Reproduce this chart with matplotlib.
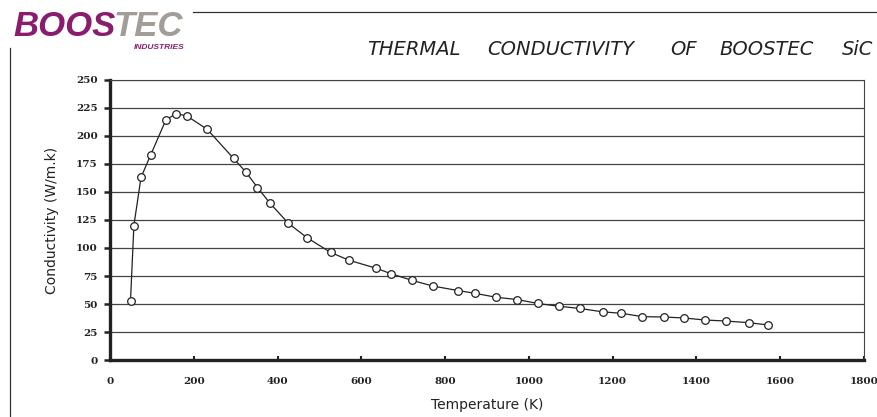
import matplotlib
matplotlib.use("Agg")
import matplotlib.pyplot as plt
from matplotlib.lines import Line2D

# Data
temperature_k = [49, 57, 74, 97, 133, 157, 183, 232, 295, 324, 352, 382, 426, 471,
                 527, 571, 635, 671, 722, 771, 831, 872, 922, 972, 1021, 1071, 1122,
                 1176, 1221, 1271, 1322, 1371, 1420, 1470, 1525, 1571]
conductivity = [53, 120, 163, 183, 214, 220, 218, 206, 180, 168, 154, 140, 122, 109,
                96, 89, 82, 77, 71, 66, 62, 59.5, 56, 54, 50.5, 48, 46,
                43, 41.7, 38.7, 38.4, 37.5, 35.7, 34.8, 33.3, 31.3]
x_ticks = [0, 200, 400, 600, 800, 1000, 1200, 1400, 1600, 1800]
y_ticks = [0, 25, 50, 75, 100, 125, 150, 175, 200, 225, 250]
title_words = ["THERMAL", "CONDUCTIVITY", "OF", "BOOSTEC", "SiC"]

W, H = 877, 417
fig = plt.figure(figsize=(W / 100, H / 100), dpi=100)
fig.patch.set_facecolor("white")

ax = fig.add_axes([110 / W, (H - 360) / H, 754 / W, 280 / H])
ax.plot(temperature_k, conductivity, color="#222222", lw=0.9,
        marker="o", markersize=5.5, markerfacecolor="white",
        markeredgecolor="#222222", markeredgewidth=0.9, zorder=3)
ax.set_xlim(0, 1800)
ax.set_ylim(0, 250)
ax.set_xticks(x_ticks)
ax.set_yticks(y_ticks)
ax.yaxis.grid(True, color="#444444", lw=0.9)
ax.set_axisbelow(True)

for s in ["left", "bottom"]:
    ax.spines[s].set_linewidth(2.4)
    ax.spines[s].set_color("#222222")
ax.spines["right"].set_linewidth(0.8)
ax.spines["right"].set_color("#444444")
ax.spines["top"].set_linewidth(0.8)
ax.spines["top"].set_color("#444444")

tick_font = dict(family="DejaVu Serif", weight="bold", size=7.5)
ax.set_xticklabels([str(t) for t in x_ticks], **tick_font, color="#222222")
ax.set_yticklabels([str(t) for t in y_ticks], **tick_font, color="#222222")
ax.tick_params(axis="x", direction="in", length=3, width=1.5, pad=12, color="#222222")
ax.tick_params(axis="y", direction="out", length=4, width=1.8, pad=5, color="#222222")

ax.set_xlabel("Temperature (K)", family="DejaVu Sans", size=10, color="#222222", labelpad=9)
ax.set_ylabel("Conductivity (W/m.k)", family="DejaVu Sans", size=10, color="#222222", labelpad=12)

# Logo
purple = "#8a1c6e"
gray = "#a39d98"
t1 = fig.text(13 / W, 1 - 36 / H, "BOOS", family="Liberation Sans", weight="bold",
              style="italic", size=25, color=purple, va="baseline", ha="left")
fig.canvas.draw()
bb = t1.get_window_extent()
fig.text(bb.x1 / W - 0.002, 1 - 36 / H, "TEC", family="Liberation Sans", weight="bold",
         style="italic", size=25, color=gray, va="baseline", ha="left")
fig.text(185 / W, 1 - 49 / H, "INDUSTRIES", family="Liberation Sans", weight="bold",
         style="italic", size=6, color=purple, va="baseline", ha="right")

# Decorative lines
fig.add_artist(Line2D([193 / W, 1.0], [1 - 12 / H, 1 - 12 / H], color="#333333", lw=0.9))
fig.add_artist(Line2D([10 / W, 10 / W], [0, 1 - 48 / H], color="#333333", lw=0.9))

# Title (words spread across the top)
word_x = [367, 487, 670, 719, 842]
for wx, word in zip(word_x, title_words):
    fig.text(wx / W, 1 - 55 / H, word, family="DejaVu Sans", style="italic",
             size=14, color="#222222", va="baseline", ha="left")

fig.savefig("out.png", dpi=100, facecolor="white")
